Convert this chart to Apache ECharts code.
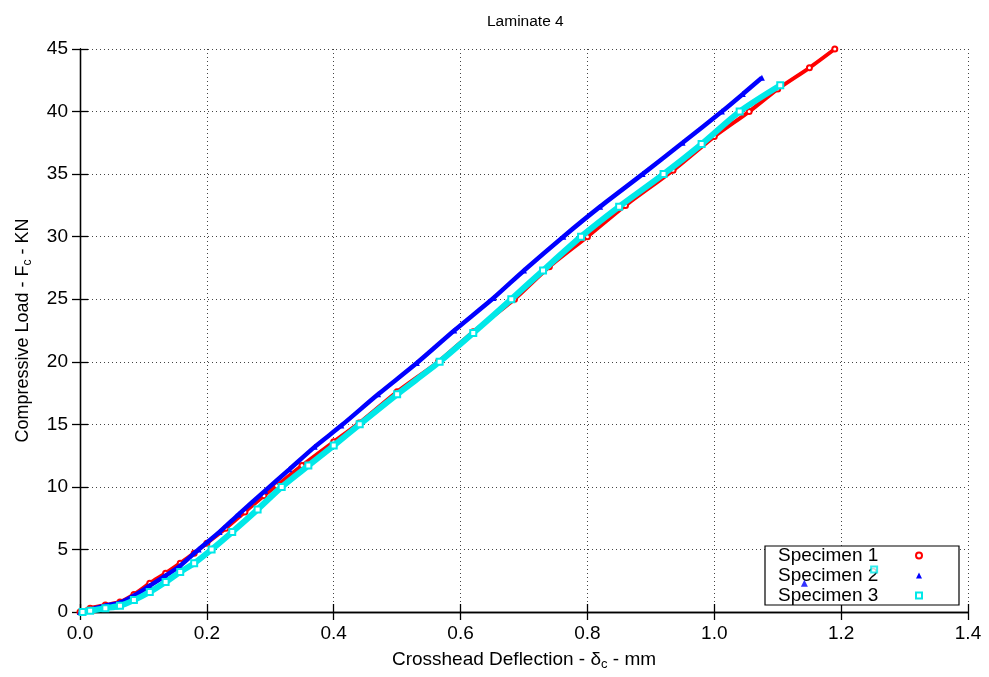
<!DOCTYPE html>
<html>
<head>
<meta charset="utf-8">
<title>Laminate 4</title>
<script src="https://cdn.jsdelivr.net/npm/echarts@6/dist/echarts.min.js"></script>
<style>
  html, body { margin: 0; padding: 0; background: #ffffff; }
  #chart { width: 989px; height: 677px; }
</style>
</head>
<body>
<div id="chart"></div>
<script>
// Crosshead deflection (mm) and compressive load (kN) for each specimen
const spec1X = [0, 0.016, 0.04, 0.063, 0.085, 0.11, 0.135, 0.158, 0.18, 0.2, 0.23, 0.26, 0.29, 0.31, 0.35, 0.40, 0.44, 0.50, 0.565, 0.62, 0.685, 0.74, 0.80, 0.86, 0.935, 1.00, 1.055, 1.10, 1.15, 1.19];
const spec1Y = [0, 0.3, 0.55, 0.8, 1.4, 2.3, 3.1, 3.9, 4.7, 5.5, 6.7, 8.0, 9.3, 10.1, 11.7, 13.6, 15.1, 17.6, 20.0, 22.4, 25.0, 27.6, 30.0, 32.5, 35.3, 38.0, 40.0, 41.8, 43.5, 45.0];

const spec2X = [0, 0.016, 0.04, 0.063, 0.085, 0.11, 0.135, 0.158, 0.187, 0.22, 0.25, 0.292, 0.33, 0.37, 0.412, 0.47, 0.531, 0.59, 0.652, 0.70, 0.762, 0.82, 0.887, 0.95, 1.012, 1.045, 1.075];
const spec2Y = [0, 0.2, 0.5, 0.75, 1.3, 2.1, 2.9, 3.7, 5.0, 6.4, 7.8, 9.7, 11.4, 13.2, 14.9, 17.4, 19.9, 22.5, 25.1, 27.3, 30.0, 32.4, 35.0, 37.5, 40.0, 41.4, 42.7];

const spec3X = [0.004, 0.016, 0.04, 0.063, 0.085, 0.11, 0.135, 0.158, 0.18, 0.2075, 0.24, 0.28, 0.318, 0.36, 0.40, 0.441, 0.50, 0.567, 0.62, 0.68, 0.73, 0.79, 0.85, 0.92, 0.98, 1.04, 1.104];
const spec3Y = [0, 0.1, 0.3, 0.5, 0.95, 1.6, 2.4, 3.2, 3.9, 5.0, 6.4, 8.2, 10.0, 11.7, 13.3, 15.0, 17.4, 20.0, 22.3, 25.0, 27.3, 30.0, 32.4, 35.0, 37.4, 40.0, 42.1];

// Isolated readings recorded after failure
const spec2AfterX = [1.142];
const spec2AfterY = [2.3];
const spec3AfterX = [1.252];
const spec3AfterY = [3.4];

const xTicks = ['0.0', '0.2', '0.4', '0.6', '0.8', '1.0', '1.2', '1.4'];
const yTicks = ['0', '5', '10', '15', '20', '25', '30', '35', '40', '45'];

const seriesNames = ['Specimen 1', 'Specimen 2', 'Specimen 3'];
const colors = ['#ff0000', '#0000ff', '#00e8e8'];

function pairs(xs, ys) {
  return xs.map((x, i) => [x, ys[i]]);
}

const FONT = 'Liberation Sans, Arial, Helvetica, sans-serif';
const gridLine = { show: true, lineStyle: { color: '#444', width: 1, type: [1, 3] } };

const chart = echarts.init(document.getElementById('chart'), null, { renderer: 'canvas' });

chart.setOption({
  backgroundColor: '#ffffff',
  animation: false,
  textStyle: { fontFamily: FONT, color: '#000' },
  title: {
    text: 'Laminate 4',
    left: 482,
    top: 9,
    textStyle: { fontFamily: FONT, fontSize: 15.5, fontWeight: 'normal', color: '#000' }
  },
  grid: { left: 80, right: 21, top: 49, bottom: 65, containLabel: false },
  legend: {
    orient: 'vertical',
    right: 30,
    top: 546,
    align: 'right',
    backgroundColor: '#ffffff',
    borderColor: '#000',
    borderWidth: 1.2,
    padding: [0, 36, 0, 13],
    itemGap: 1,
    itemWidth: 6,
    itemHeight: 6,
    formatter: (name) => '{n|' + name + '}',
    textStyle: {
      fontFamily: FONT, fontSize: 19, color: '#000',
      rich: { n: { fontFamily: FONT, fontSize: 19, color: '#000', width: 133, align: 'left', lineHeight: 19 } }
    },
    data: [
      { name: seriesNames[0], icon: 'emptyCircle', itemStyle: { color: colors[0], borderColor: colors[0], borderWidth: 1.5 } },
      { name: seriesNames[1], icon: 'triangle', itemStyle: { color: colors[1] } },
      { name: seriesNames[2], icon: 'emptyRect', itemStyle: { color: colors[2], borderColor: colors[2], borderWidth: 2 } }
    ]
  },
  xAxis: [{
    type: 'value',
    min: 0,
    max: 1.4,
    interval: 0.2,
    name: '{t|Crosshead Deflection - δ}{s|c}{t| - mm}',
    nameLocation: 'middle',
    nameGap: 36,
    nameTextStyle: {
      rich: {
        t: { fontFamily: FONT, fontSize: 19, color: '#000' },
        s: { fontFamily: FONT, fontSize: 13, color: '#000', verticalAlign: 'bottom', padding: [10, 0, 0, 0] }
      }
    },
    axisLine: { show: true, onZero: false, lineStyle: { color: '#000', width: 1.3 } },
    axisTick: { show: true, inside: true, length: 8, lineStyle: { color: '#000', width: 1.3 } },
    axisLabel: { fontFamily: FONT, fontSize: 19, color: '#000', margin: 12, formatter: (v) => xTicks[Math.round(v / 0.2)] },
    splitLine: gridLine
  }, {
    type: 'value',
    position: 'top',
    min: 0,
    max: 1.4,
    interval: 0.2,
    axisLine: { show: true, lineStyle: { color: '#000', width: 1.3 } },
    axisTick: { show: true, inside: true, length: 8, lineStyle: { color: '#000', width: 1.3 } },
    axisLabel: { show: false },
    splitLine: { show: false }
  }],
  yAxis: [{
    type: 'value',
    min: 0,
    max: 45,
    interval: 5,
    name: '{t|Compressive Load - F}{s|c}{t| - KN}',
    nameLocation: 'middle',
    nameGap: 46,
    nameTextStyle: {
      rich: {
        t: { fontFamily: FONT, fontSize: 18, color: '#000' },
        s: { fontFamily: FONT, fontSize: 12, color: '#000', verticalAlign: 'bottom', padding: [10, 0, 0, 0] }
      }
    },
    axisLine: { show: true, onZero: false, lineStyle: { color: '#000', width: 1.3 } },
    axisTick: { show: true, inside: true, length: 8, lineStyle: { color: '#000', width: 1.3 } },
    axisLabel: { fontFamily: FONT, fontSize: 19, color: '#000', margin: 12, formatter: (v) => yTicks[Math.round(v / 5)] },
    splitLine: gridLine
  }, {
    type: 'value',
    position: 'right',
    min: 0,
    max: 45,
    interval: 5,
    axisLine: { show: true, lineStyle: { color: '#000', width: 1.3 } },
    axisTick: { show: true, inside: true, length: 8, lineStyle: { color: '#000', width: 1.3 } },
    axisLabel: { show: false },
    splitLine: { show: false }
  }],
  series: [
    {
      name: seriesNames[0],
      type: 'line',
      data: pairs(spec1X, spec1Y),
      smooth: 0.25,
      showAllSymbol: true,
      symbol: 'emptyCircle',
      symbolSize: 5,
      lineStyle: { color: colors[0], width: 4 },
      itemStyle: { color: colors[0], borderColor: colors[0], borderWidth: 1.5 },
      z: 2
    },
    {
      name: seriesNames[1],
      type: 'line',
      data: pairs(spec2X, spec2Y),
      smooth: 0.25,
      showAllSymbol: true,
      symbol: 'triangle',
      symbolSize: 6,
      lineStyle: { color: colors[1], width: 4.5 },
      itemStyle: { color: colors[1] },
      z: 3
    },
    {
      name: seriesNames[2],
      type: 'line',
      data: pairs(spec3X, spec3Y),
      smooth: 0.25,
      showAllSymbol: true,
      symbol: 'emptyRect',
      symbolSize: 6,
      lineStyle: { color: colors[2], width: 6 },
      itemStyle: { color: colors[2], borderColor: colors[2], borderWidth: 2 },
      z: 4
    },
    {
      name: seriesNames[1],
      type: 'scatter',
      data: pairs(spec2AfterX, spec2AfterY),
      symbol: 'triangle',
      symbolSize: 7,
      itemStyle: { color: colors[1] },
      z: 10
    },
    {
      name: seriesNames[2],
      type: 'scatter',
      data: pairs(spec3AfterX, spec3AfterY),
      symbol: 'emptyRect',
      symbolSize: 6,
      itemStyle: { color: colors[2], borderColor: colors[2], borderWidth: 2 },
      z: 10
    }
  ]
});
</script>
</body>
</html>
